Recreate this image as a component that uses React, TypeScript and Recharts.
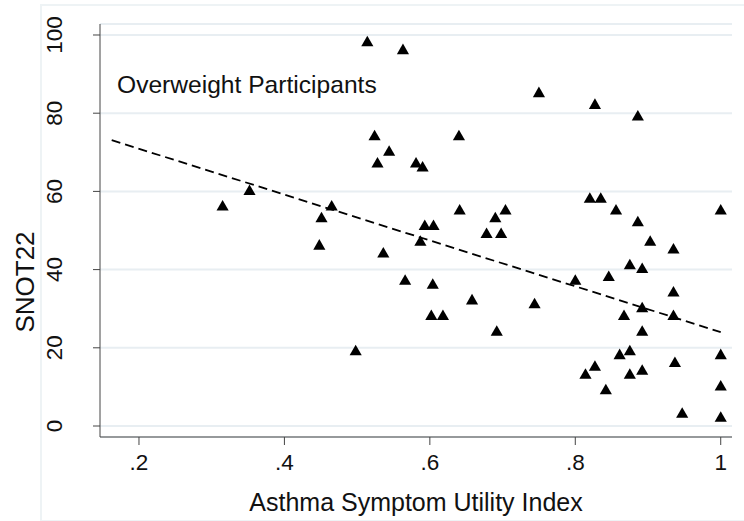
import React from 'react';
import { ScatterChart, Scatter, XAxis, YAxis, CartesianGrid } from 'recharts';

// Asthma Symptom Utility Index vs SNOT22, overweight participants
const asui = [
  0.315, 0.352, 0.448, 0.451, 0.465, 0.498, 0.514, 0.524, 0.528, 0.536,
  0.544, 0.563, 0.566, 0.581, 0.587, 0.59, 0.593, 0.602, 0.604, 0.605,
  0.618, 0.64, 0.641, 0.658, 0.678, 0.69, 0.692, 0.698, 0.704, 0.744,
  0.75, 0.8, 0.814, 0.82, 0.827, 0.827, 0.835, 0.842, 0.846, 0.856,
  0.861, 0.867, 0.875, 0.875, 0.875, 0.886, 0.886, 0.892, 0.892, 0.892,
  0.892, 0.903, 0.935, 0.935, 0.935, 0.937, 0.947, 1.0, 1.0, 1.0, 1.0,
];
const snot22 = [
  56, 60, 46, 53, 56, 19, 98, 74, 67, 44,
  70, 96, 37, 67, 47, 66, 51, 28, 36, 51,
  28, 74, 55, 32, 49, 53, 24, 49, 55, 31,
  85, 37, 13, 58, 82, 15, 58, 9, 38, 55,
  18, 28, 41, 19, 13, 79, 52, 40, 30, 24,
  14, 47, 45, 34, 28, 16, 3, 55, 18, 10, 2,
];

// fitted line endpoints
const fitX = [0.1625, 1.0];
const fitY = [73.1, 24.0];

const xTicks = [0.2, 0.4, 0.6, 0.8, 1];
const yTicks = [0, 20, 40, 60, 80, 100];

const FONT = '"Liberation Sans", Arial, sans-serif';

const fmtX = (v: number) => (v === 1 ? '1' : String(v).replace(/^0/, ''));

function XTick({ x, y, payload }: any) {
  return (
    <text x={x} y={y} dy={23} textAnchor="middle" fontSize={22.5} fontFamily={FONT} fill="#111">
      {fmtX(payload.value)}
    </text>
  );
}

function YTick({ x, y, payload }: any) {
  return (
    <text
      transform={`translate(${x - 29}, ${y}) rotate(-90)`}
      textAnchor="middle"
      fontSize={22.5}
      fontFamily={FONT}
      fill="#111"
    >
      {payload.value}
    </text>
  );
}

export default function App() {
  const points = asui.map((x, i) => ({ x, y: snot22[i] }));
  const fit = fitX.map((x, i) => ({ x, y: fitY[i] }));

  return (
    <div style={{ position: 'relative', width: 744, height: 521, background: '#fff' }}>
      <style>{'body{margin:0}'}</style>
      <div
        style={{
          position: 'absolute',
          left: 40,
          top: 4,
          width: 710,
          height: 514,
          border: '2px solid #eef3f5',
        }}
      />
      <ScatterChart
        width={744}
        height={521}
        margin={{ top: 24, right: 12, bottom: 34, left: 40 }}
        style={{ position: 'absolute', left: 0, top: 0 }}
      >
        <CartesianGrid vertical={false} stroke="#e8eef2" strokeWidth={2} />
        <XAxis
          type="number"
          dataKey="x"
          domain={[0.1464, 1.0155]}
          ticks={xTicks}
          allowDataOverflow
          height={50}
          stroke="#444"
          tickSize={8}
          tick={<XTick />}
          label={{
            content: ({ viewBox }: any) => (
              <text
                x={viewBox.x + viewBox.width / 2}
                y={511}
                textAnchor="middle"
                fontSize={25}
                fontFamily={FONT}
                fill="#111"
              >
                Asthma Symptom Utility Index
              </text>
            ),
          }}
        />
        <YAxis
          type="number"
          dataKey="y"
          domain={[-2.81, 102.81]}
          ticks={yTicks}
          allowDataOverflow
          width={60}
          stroke="#444"
          tickSize={7}
          tick={<YTick />}
          label={{
            content: () => (
              <text
                transform="translate(34, 282) rotate(-90)"
                textAnchor="middle"
                fontSize={26}
                fontFamily={FONT}
                fill="#111"
              >
                SNOT22
              </text>
            ),
          }}
        />
        <Scatter
          data={fit}
          isAnimationActive={false}
          line={{ stroke: '#000', strokeWidth: 1.8, strokeDasharray: '9 5' }}
          shape={() => <g />}
        />
        <Scatter data={points} shape="triangle" fill="#000" isAnimationActive={false} />
        <text x={117} y={93} fontSize={24.6} fontFamily={FONT} fill="#111">
          Overweight Participants
        </text>
      </ScatterChart>
    </div>
  );
}
